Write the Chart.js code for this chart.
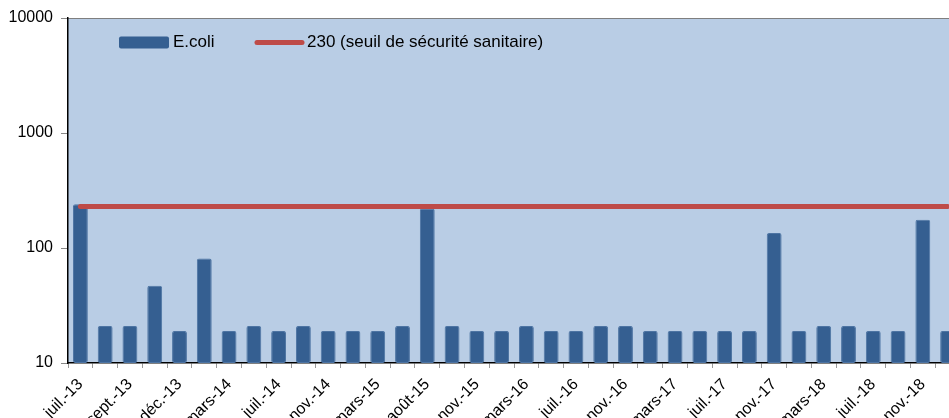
<!DOCTYPE html>
<html>
<head>
<meta charset="utf-8">
<script src="https://cdn.jsdelivr.net/npm/chart.js@4/dist/chart.umd.min.js"></script>
<style>
  html, body { margin: 0; padding: 0; background: #fff; overflow: hidden; }
  #wrap { width: 960px; height: 418px; position: relative; }
</style>
</head>
<body>
<div id="wrap"><canvas id="ecoliChart"></canvas></div>
<script>
// Sampling dates (only every other one is labelled on the axis)
const categories = [
  'juil.-13', 'août-13', 'sept.-13', 'nov.-13', 'déc.-13', 'janv.-14',
  'mars-14', 'mai-14', 'juil.-14', 'sept.-14', 'nov.-14', 'janv.-15',
  'mars-15', 'juin-15', 'août-15', 'sept.-15', 'nov.-15', 'janv.-16',
  'mars-16', 'mai-16', 'juil.-16', 'sept.-16', 'nov.-16', 'janv.-17',
  'mars-17', 'mai-17', 'juil.-17', 'sept.-17', 'nov.-17', 'janv.-18',
  'mars-18', 'mai-18', 'juil.-18', 'sept.-18', 'nov.-18', 'janv.-19'
];

// E.coli counts
const ecoli = [
  240, 21, 21, 47, 19, 81,
  19, 21, 19, 21, 19, 19,
  19, 21, 220, 21, 19, 19,
  21, 19, 19, 21, 21, 19,
  19, 19, 19, 19, 135, 19,
  21, 21, 19, 19, 176, 19
];

// Sanitary safety threshold
const seuil = [
  230, 230, 230, 230, 230, 230,
  230, 230, 230, 230, 230, 230,
  230, 230, 230, 230, 230, 230,
  230, 230, 230, 230, 230, 230,
  230, 230, 230, 230, 230, 230,
  230, 230, 230, 230, 230, 230
];

const yTicks = [10, 100, 1000, 10000];

const barColor = '#355f91';
const lineColor = '#be4b48';

// Plot area background, top border and the legend drawn inside the plot
const plotDecor = {
  id: 'plotDecor',
  beforeDraw(chart) {
    const { ctx, chartArea: a } = chart;
    ctx.save();
    ctx.fillStyle = '#b9cde5';
    ctx.fillRect(a.left, a.top, a.right - a.left, a.bottom - a.top);
    ctx.strokeStyle = '#7f7f7f';
    ctx.lineWidth = 1;
    ctx.beginPath();
    ctx.moveTo(a.left, a.top + 0.5);
    ctx.lineTo(a.right, a.top + 0.5);
    ctx.stroke();
    ctx.restore();
  },
  afterDraw(chart) {
    const { ctx } = chart;
    const ds = chart.data.datasets;
    const y = 42.5;
    ctx.save();
    ctx.font = '17px "Liberation Sans", Arial, sans-serif';
    ctx.textBaseline = 'middle';
    // bar entry
    ctx.fillStyle = ds[0].backgroundColor;
    ctx.beginPath();
    ctx.roundRect(119, y - 6, 50, 12, 2);
    ctx.fill();
    ctx.fillStyle = '#000';
    ctx.fillText(ds[0].label, 173, y);
    // line entry
    ctx.strokeStyle = ds[1].borderColor;
    ctx.lineWidth = 5;
    ctx.lineCap = 'round';
    ctx.beginPath();
    ctx.moveTo(257, y);
    ctx.lineTo(302, y);
    ctx.stroke();
    ctx.fillText(ds[1].label, 307, y);
    ctx.restore();
  }
};

const ctx = document.getElementById('ecoliChart').getContext('2d');

new Chart(ctx, {
  data: {
    labels: categories,
    datasets: [{
      type: 'bar',
      label: 'E.coli',
      data: ecoli,
      backgroundColor: barColor,
      borderColor: '#4d74a3',
      borderWidth: 1,
      borderRadius: 2,
      borderSkipped: false,
      barPercentage: 0.6,
      categoryPercentage: 1.0,
      order: 2
    }, {
      type: 'line',
      label: '230 (seuil de sécurité sanitaire)',
      data: seuil,
      borderColor: lineColor,
      borderWidth: 5,
      borderCapStyle: 'round',
      pointRadius: 0,
      fill: false,
      order: 1
    }]
  },
  options: {
    responsive: true,
    maintainAspectRatio: false,
    animation: false,
    layout: { padding: { top: 18, right: 0, left: 0, bottom: 0 } },
    plugins: {
      legend: { display: false },
      tooltip: { enabled: false }
    },
    scales: {
      x: {
        offset: true,
        grid: {
          display: true,
          offset: true,
          drawOnChartArea: false,
          drawTicks: true,
          tickLength: 5,
          color: '#999'
        },
        border: { display: true, color: '#000', width: 1.5 },
        ticks: {
          autoSkip: false,
          maxRotation: 45,
          minRotation: 45,
          padding: 7,
          color: '#000',
          font: { family: '"Liberation Sans", Arial, sans-serif', size: 16 },
          callback: function(value, index) {
            return index % 2 === 0 ? categories[index] : '';
          }
        },
        afterFit: function(scale) {
          scale.height = 55;
          scale.paddingLeft = 0;
          scale.paddingRight = 0;
        }
      },
      y: {
        type: 'logarithmic',
        min: 10,
        max: 10000,
        grid: {
          display: true,
          drawOnChartArea: false,
          drawTicks: true,
          tickLength: 7,
          color: '#888'
        },
        border: { display: true, color: '#000', width: 1.5 },
        afterBuildTicks: function(scale) {
          scale.ticks = yTicks.map(v => ({ value: v }));
        },
        ticks: {
          padding: 8,
          color: '#000',
          font: { family: '"Liberation Sans", Arial, sans-serif', size: 16 },
          callback: function(value) { return String(value); }
        },
        afterFit: function(scale) {
          scale.width = 68;
          scale.paddingTop = 0;
          scale.paddingBottom = 0;
        }
      }
    }
  },
  plugins: [plotDecor]
});
</script>
</body>
</html>
